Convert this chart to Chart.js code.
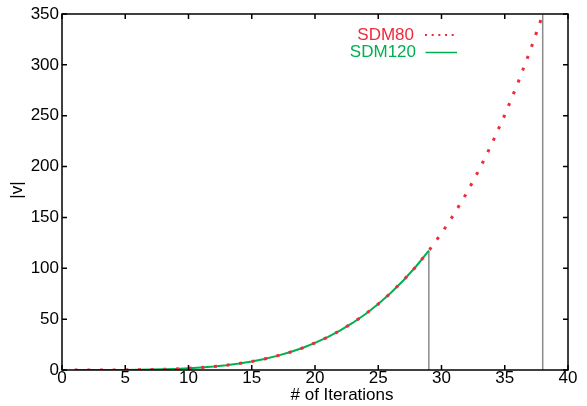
<!DOCTYPE html>
<html>
<head>
<meta charset="utf-8">
<title>|v| vs # of Iterations</title>
<script src="https://cdn.jsdelivr.net/npm/chart.js@4/dist/chart.umd.min.js"></script>
<style>
  html, body { margin: 0; padding: 0; background: #ffffff; }
  #wrap { width: 587px; height: 406px; }
</style>
</head>
<body>
<div id="wrap"><canvas id="chart" width="587" height="406"></canvas></div>
<script>
// Iteration counts and |v| for each solver run
const iterationsSDM80 = [1, 2, 3, 4, 5, 6, 7, 8, 9, 10, 11, 12, 13, 14, 15, 16, 17, 18, 19, 20,
  21, 22, 23, 24, 25, 26, 27, 28, 29, 30, 31, 32, 33, 34, 35, 36, 37, 38];
const valuesSDM80 = [0.00, 0.00, 0.01, 0.04, 0.10, 0.21, 0.40, 0.68, 1.09, 1.66,
  2.43, 3.44, 4.74, 6.37, 8.40, 10.9, 13.9, 17.4, 21.6, 26.6,
  32.3, 38.9, 46.5, 55.1, 64.9, 75.9, 88.3, 102.0, 117.3, 134.4,
  153.4, 174.3, 197.5, 222.9, 250.8, 280.9, 313.6, 349.4];

const iterationsSDM120 = [1, 2, 3, 4, 5, 6, 7, 8, 9, 10, 11, 12, 13, 14, 15, 16, 17, 18, 19, 20,
  21, 22, 23, 24, 25, 26, 27, 28, 29];
const valuesSDM120 = [0.00, 0.00, 0.01, 0.04, 0.10, 0.21, 0.40, 0.68, 1.09, 1.66,
  2.43, 3.44, 4.74, 6.37, 8.40, 10.9, 13.9, 17.4, 21.6, 26.6,
  32.3, 38.9, 46.5, 55.1, 64.9, 75.9, 88.3, 102.0, 117.3];

const xTickValues = [0, 5, 10, 15, 20, 25, 30, 35, 40];
const yTickValues = [0, 50, 100, 150, 200, 250, 300, 350];

const seriesNames = ['SDM80', 'SDM120'];
const xTitle = '# of Iterations';
const yTitle = '|v|';

const RED = '#ef2a3b';
const GREEN = '#00b050';
const GREY = '#8a8a8a';
const FONT = '"Liberation Sans", Arial, Helvetica, sans-serif';

function toPoints(xs, ys) {
  return xs.map((x, i) => ({ x: x, y: ys[i] }));
}

// vertical drop from the final iteration of a run down to zero
function dropLine(xs, ys) {
  const n = xs.length - 1;
  return [{ x: xs[n], y: 0 }, { x: xs[n], y: ys[n] }];
}

// frame, inward ticks on all four sides, axis titles and key
const framePlugin = {
  id: 'frame',
  afterDraw(chart) {
    const ctx = chart.ctx;
    const a = chart.chartArea;
    const xs = chart.scales.x;
    const ys = chart.scales.y;
    const tick = 5;
    ctx.save();
    ctx.strokeStyle = '#000';
    ctx.lineWidth = 1.5;
    ctx.beginPath();
    xTickValues.forEach(v => {
      const px = xs.getPixelForValue(v);
      ctx.moveTo(px, a.bottom); ctx.lineTo(px, a.bottom - tick);
      ctx.moveTo(px, a.top); ctx.lineTo(px, a.top + tick);
    });
    yTickValues.forEach(v => {
      const py = ys.getPixelForValue(v);
      ctx.moveTo(a.left, py); ctx.lineTo(a.left + tick, py);
      ctx.moveTo(a.right, py); ctx.lineTo(a.right - tick, py);
    });
    ctx.stroke();
    ctx.strokeRect(a.left, a.top, a.right - a.left, a.bottom - a.top);

    // axis titles
    ctx.fillStyle = '#000';
    ctx.font = '17px ' + FONT;
    ctx.textAlign = 'center';
    ctx.textBaseline = 'middle';
    ctx.fillText(xTitle, 342, 395);
    ctx.save();
    ctx.translate(17, 190);
    ctx.rotate(-Math.PI / 2);
    ctx.fillText(yTitle, 0, 0);
    ctx.restore();

    // key
    ctx.textAlign = 'right';
    ctx.textBaseline = 'alphabetic';
    ctx.fillStyle = RED;
    ctx.fillText(seriesNames[0], 414, 40);
    ctx.fillStyle = GREEN;
    ctx.fillText(seriesNames[1], 416, 57);

    ctx.strokeStyle = RED;
    ctx.lineWidth = 2;
    ctx.setLineDash([2, 4.67]);
    ctx.beginPath();
    ctx.moveTo(425, 35); ctx.lineTo(455, 35);
    ctx.stroke();
    ctx.setLineDash([]);
    ctx.strokeStyle = GREEN;
    ctx.lineWidth = 1.5;
    ctx.beginPath();
    ctx.moveTo(425.5, 52.5); ctx.lineTo(457, 52.5);
    ctx.stroke();
    ctx.restore();
  }
};

new Chart(document.getElementById('chart'), {
  type: 'line',
  data: {
    datasets: [
      {
        label: seriesNames[0],
        data: toPoints(iterationsSDM80, valuesSDM80),
        borderColor: RED,
        borderWidth: 3,
        borderDash: [3, 9.67],
        borderCapStyle: 'butt',
        pointRadius: 0,
        fill: false,
        tension: 0,
        order: 1
      },
      {
        label: seriesNames[1],
        data: toPoints(iterationsSDM120, valuesSDM120),
        borderColor: GREEN,
        borderWidth: 2,
        pointRadius: 0,
        fill: false,
        tension: 0,
        order: 2
      },
      {
        label: 'drop80',
        data: dropLine(iterationsSDM80, valuesSDM80),
        borderColor: GREY,
        borderWidth: 1.5,
        pointRadius: 0,
        fill: false,
        order: 3
      },
      {
        label: 'drop120',
        data: dropLine(iterationsSDM120, valuesSDM120),
        borderColor: GREY,
        borderWidth: 1.5,
        pointRadius: 0,
        fill: false,
        order: 3
      }
    ]
  },
  options: {
    responsive: false,
    animation: false,
    devicePixelRatio: 1,
    layout: { padding: { top: 14, right: 19, left: 0, bottom: 0 } },
    plugins: {
      legend: { display: false },
      tooltip: { enabled: false },
      title: { display: false }
    },
    scales: {
      x: {
        type: 'linear',
        min: 0,
        max: 40,
        afterBuildTicks(scale) { scale.ticks = xTickValues.map(v => ({ value: v })); },
        afterFit(scale) { scale.height = 36; },
        ticks: { color: '#000', font: { family: FONT, size: 17 }, padding: -2, maxRotation: 0, autoSkip: false },
        grid: { display: false, drawTicks: false, tickLength: 0 },
        border: { display: false }
      },
      y: {
        type: 'linear',
        min: 0,
        max: 350,
        afterBuildTicks(scale) { scale.ticks = yTickValues.map(v => ({ value: v })); },
        afterFit(scale) { scale.width = 62; },
        ticks: { color: '#000', font: { family: FONT, size: 17 }, padding: 3, autoSkip: false },
        grid: { display: false, drawTicks: false, tickLength: 0 },
        border: { display: false }
      }
    }
  },
  plugins: [framePlugin]
});
</script>
</body>
</html>
